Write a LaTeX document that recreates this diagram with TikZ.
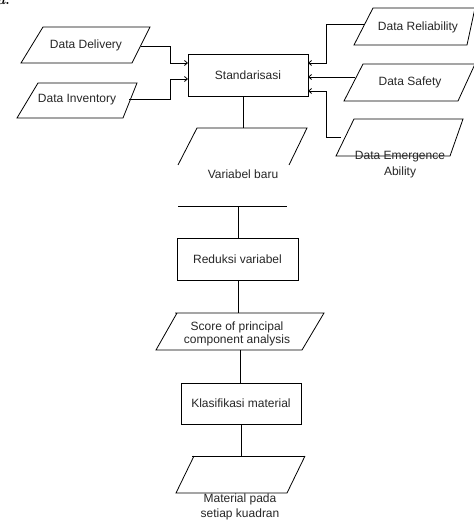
\documentclass[tikz,border=0pt]{standalone}
\usepackage{fontspec}
\setmainfont{Liberation Sans}
\newfontfamily\lmfont{Latin Modern Roman}
\usetikzlibrary{arrows.meta}
\begin{document}
\begin{tikzpicture}[x=1pt,y=-1pt,
  ln/.style={line width=0.8pt,draw=black},
  arr/.style={ln,-{Straight Barb[length=3pt,width=5pt]}},
  txt/.style={font=\fontsize{12}{15}\selectfont,inner sep=0pt,align=center,text=black!85}]
\useasboundingbox (0,0) rectangle (473,521);
% fragment of caption at top-left
\node[anchor=base west,inner sep=0pt,font=\lmfont\fontsize{14}{16}\selectfont\bfseries] (frag) at (-3,5) {\textit{a}.};
% input parallelograms
\draw[ln] (43,27) -- (150,27) -- (132,63) -- (21,63) -- cycle;
\node[txt] (dd) at (86,45) {Data Delivery};
\draw[ln] (38,83) -- (137,83) -- (123,118) -- (17,118) -- cycle;
\node[txt] (di) at (77,100) {Data Inventory};
\draw[ln] (373,8) -- (475,8) -- (467,45) -- (354,45) -- cycle;
\node[txt] (dr) at (418,27) {Data Reliability};
\draw[ln] (363,64) -- (475,64) -- (458,101) -- (344,101) -- cycle;
\node[txt] (ds) at (410,82) {Data Safety};
\draw[ln] (354,119) -- (463,119) -- (450,156) -- (336,156) -- cycle;
\node[txt,anchor=base,font=\fontsize{12}{16}\selectfont] (de) at (400,176) {Data Emergence\\Ability};
% Standarisasi
\node[ln,minimum width=120pt,minimum height=42pt,txt] (std) at (248,75) {Standarisasi};
\coordinate (s1) at (188,63);
\coordinate (s2) at (188,79);
\coordinate (r1) at (308,63);
\coordinate (r2) at (308,77);
\coordinate (r3) at (308,91);
\draw[arr] (141,46) -- (170,46) |- (s1);
\draw[arr] (129,99) -- (170,99) |- (s2);
\draw[arr] (364,24) -- (326,24) |- (r1);
\draw[arr] (355,77) -- (r2);
\draw[arr] (341,137) -- (326,137) |- (r3);
% Variabel baru
\coordinate (vtop) at (243,128);
\draw[ln] (std.south -| vtop) -- (vtop);
\draw[ln] (178,165) -- (197,128) -- (307,128) -- (289,165);
\node[txt,anchor=base] (vb) at (243,179) {Variabel baru};
% cut line
\coordinate (cl) at (238,206);
\draw[ln] (178,206) -- (287,206);
% Reduksi
\node[ln,minimum width=121pt,minimum height=42pt,txt] (red) at (237.5,259) {Reduksi variabel};
\draw[ln] (cl) -- (red.north -| cl);
\coordinate (sc) at (238,313);
\draw[ln] (red.south -| sc) -- (sc);
\draw[ln] (175,313) -- (324,313) -- (302,350) -- (156,350) -- (177,313);
\node[txt,font=\fontsize{12}{13}\selectfont] (score) at (237,334) {Score of principal\\component analysis};
% Klasifikasi
\node[ln,minimum width=120pt,minimum height=41pt,txt] (kla) at (241,403.5) {Klasifikasi material};
\coordinate (k1) at (240,350);
\draw[ln] (k1) -- (kla.north -| k1);
\coordinate (mt) at (241,456);
\draw[ln] (kla.south -| mt) -- (mt);
\draw[ln] (192,456) -- (305,456);
\draw[ln] (194,456) -- (176,493) -- (287,493) -- (305,456);
\node[txt,anchor=base] (mat) at (240,517) {Material pada\\setiap kuadran};
\end{tikzpicture}
\end{document}
